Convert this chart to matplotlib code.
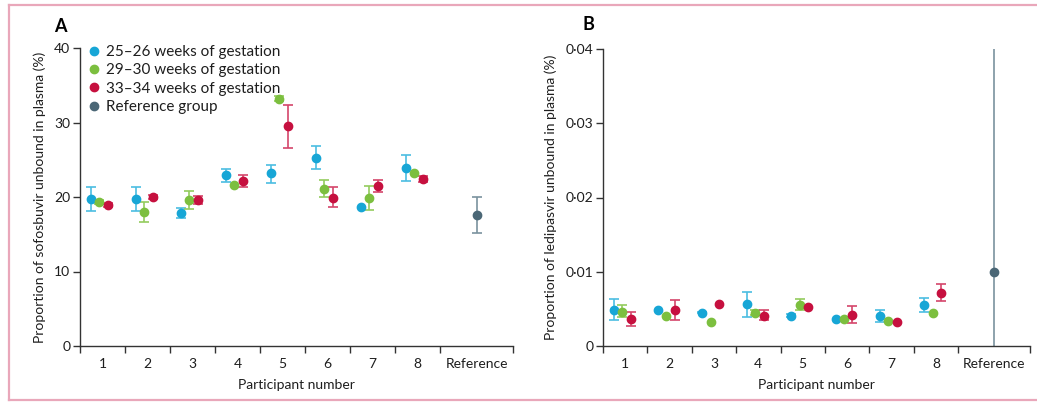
import numpy as np
import matplotlib
matplotlib.use("Agg")
import matplotlib.pyplot as plt
from matplotlib import font_manager
from matplotlib.lines import Line2D

# --- DATA ---------------------------------------------------------------------
participants = ["1", "2", "3", "4", "5", "6", "7", "8"]
ref_label = "Reference"
group_labels = ["25–26 weeks of gestation", "29–30 weeks of gestation",
                "33–34 weeks of gestation", "Reference group"]

# sofosbuvir unbound (%) : mean, lower, upper
sof_mean_2526 = [19.7, 19.7, 17.8, 22.9, 23.2, 25.3, 18.6, 23.9]
sof_low_2526  = [18.1, 18.1, 17.2, 22.0, 21.9, 23.7, 18.6, 22.1]
sof_high_2526 = [21.4, 21.4, 18.5, 23.8, 24.3, 26.9, 18.6, 25.7]

sof_mean_2930 = [19.3, 18.0, 19.6, 21.6, 33.2, 21.1, 19.9, 23.2]
sof_low_2930  = [19.0, 16.7, 18.4, 21.6, 32.9, 20.0, 18.3, 23.2]
sof_high_2930 = [19.6, 19.3, 20.8, 21.6, 33.5, 22.3, 21.5, 23.2]

sof_mean_3334 = [18.9, 20.0, 19.6, 22.2, 29.5, 19.9, 21.5, 22.4]
sof_low_3334  = [18.6, 19.7, 19.1, 21.4, 26.6, 18.6, 20.7, 22.0]
sof_high_3334 = [19.2, 20.3, 20.1, 22.9, 32.3, 21.3, 22.3, 22.8]

sof_ref = [17.6, 15.2, 20.0]

# ledipasvir unbound (%) : mean, lower, upper
led_mean_2526 = [0.0049, 0.0048, 0.0045, 0.0056, 0.0041, 0.0037, 0.0040, 0.0055]
led_low_2526  = [0.0035, 0.0048, 0.0044, 0.0039, 0.0039, 0.0037, 0.0032, 0.0046]
led_high_2526 = [0.0063, 0.0048, 0.0046, 0.0073, 0.0043, 0.0037, 0.0049, 0.0065]

led_mean_2930 = [0.0046, 0.0040, 0.0032, 0.0045, 0.0055, 0.0037, 0.0034, 0.0044]
led_low_2930  = [0.0039, 0.0040, 0.0032, 0.0042, 0.0048, 0.0036, 0.0034, 0.0044]
led_high_2930 = [0.0055, 0.0040, 0.0032, 0.0048, 0.0063, 0.0038, 0.0034, 0.0044]

led_mean_3334 = [0.0036, 0.0049, 0.0057, 0.0041, 0.0052, 0.0042, 0.0032, 0.0071]
led_low_3334  = [0.0027, 0.0035, 0.0057, 0.0035, 0.0052, 0.0031, 0.0032, 0.0060]
led_high_3334 = [0.0046, 0.0062, 0.0057, 0.0048, 0.0052, 0.0054, 0.0032, 0.0083]

led_ref = [0.0100, 0.0, 0.0400]

# --- STYLE --------------------------------------------------------------------
names = {f.name for f in font_manager.fontManager.ttflist}
font = "Liberation Sans Narrow" if "Liberation Sans Narrow" in names else "Lato"
plt.rcParams["font.family"] = [font, "DejaVu Sans"]

dot_colors = ["#17a6d6", "#7cbf3f", "#c6103f", "#4b6776"]
bar_colors = ["#4cbde2", "#93cc5e", "#d4456b", "#7a929e"]
axis_color = "#333333"
text_color = "#1e1e1e"
offsets = [-0.26, -0.07, 0.12]
ref_width = 1.62            # reference column is wider than a participant column
n = len(participants)
bounds = list(range(n + 1)) + [n + ref_width]
centers = [i + 0.5 for i in range(n)]
ref_center = n + ref_width / 2


def draw_group(ax, mean, low, high, k):
    mean, low, high = map(np.asarray, (mean, low, high))
    x = np.array(centers) + offsets[k]
    has_err = high > low
    ax.errorbar(x[has_err], mean[has_err],
                yerr=[mean[has_err] - low[has_err], high[has_err] - mean[has_err]],
                fmt="none", ecolor=bar_colors[k], elinewidth=1.2,
                capsize=3.4, capthick=1.2, zorder=2)
    ax.plot(x, mean, "o", color=dot_colors[k], markersize=6, zorder=3)


def style_axes(ax, yticks, yticklabels, ylabel):
    ax.set_xlim(0, bounds[-1])
    ax.set_ylim(yticks[0], yticks[-1])
    for side in ["top", "right"]:
        ax.spines[side].set_visible(False)
    for side in ["left", "bottom"]:
        ax.spines[side].set_color(axis_color)
        ax.spines[side].set_linewidth(1.0)
    ax.set_xticks(bounds)
    ax.set_xticklabels([])
    ax.set_xticks(centers + [ref_center], minor=True)
    ax.set_xticklabels(participants + [ref_label], minor=True, fontsize=10)
    ax.tick_params(axis="x", which="major", length=5, width=1.0, color=axis_color)
    ax.tick_params(axis="x", which="minor", length=0, pad=9, colors=text_color)
    ax.set_yticks(yticks)
    ax.set_yticklabels(yticklabels, fontsize=10)
    ax.tick_params(axis="y", length=5, width=1.0, color=axis_color,
                   labelcolor=text_color, pad=2)
    ax.set_xlabel("Participant number", fontsize=10, labelpad=6, color=text_color)
    ax.set_ylabel(ylabel, fontsize=10, labelpad=6, color=text_color)


# --- FIGURE -------------------------------------------------------------------
W, H = 1037, 403
fig = plt.figure(figsize=(W / 100, H / 100), dpi=100)

ax_a = fig.add_axes([80 / W, 1 - 346 / H, 433 / W, 298 / H])
ax_b = fig.add_axes([603 / W, 1 - 346 / H, 427 / W, 297 / H])

# panel A - sofosbuvir
for k, (m, lo, hi) in enumerate([(sof_mean_2526, sof_low_2526, sof_high_2526),
                                 (sof_mean_2930, sof_low_2930, sof_high_2930),
                                 (sof_mean_3334, sof_low_3334, sof_high_3334)]):
    draw_group(ax_a, m, lo, hi, k)
ax_a.errorbar([ref_center], [sof_ref[0]],
              yerr=[[sof_ref[0] - sof_ref[1]], [sof_ref[2] - sof_ref[0]]],
              fmt="none", ecolor=bar_colors[3], elinewidth=1.2,
              capsize=3.4, capthick=1.2, zorder=2)
ax_a.plot([ref_center], [sof_ref[0]], "o", color=dot_colors[3], markersize=6, zorder=3)
style_axes(ax_a, [0, 10, 20, 30, 40], ["0", "10", "20", "30", "40"],
           "Proportion of sofosbuvir unbound in plasma (%)")

# panel B - ledipasvir
for k, (m, lo, hi) in enumerate([(led_mean_2526, led_low_2526, led_high_2526),
                                 (led_mean_2930, led_low_2930, led_high_2930),
                                 (led_mean_3334, led_low_3334, led_high_3334)]):
    draw_group(ax_b, m, lo, hi, k)
ax_b.errorbar([ref_center], [led_ref[0]],
              yerr=[[led_ref[0] - led_ref[1]], [led_ref[2] - led_ref[0]]],
              fmt="none", ecolor=bar_colors[3], elinewidth=1.2, capsize=0, zorder=2)
ax_b.plot([ref_center], [led_ref[0]], "o", color=dot_colors[3], markersize=6, zorder=3)
style_axes(ax_b, [0, 0.01, 0.02, 0.03, 0.04], ["0", "0·01", "0·02", "0·03", "0·04"],
           "Proportion of ledipasvir unbound in plasma (%)")

# legend
handles = [Line2D([], [], marker="o", linestyle="none", color=c, markersize=6)
           for c in dot_colors]
ax_a.legend(handles, group_labels, loc="upper left", bbox_to_anchor=(0.022, 1.01),
            frameon=False, fontsize=11, handlelength=0.6, handletextpad=0.5,
            labelspacing=0.28, borderpad=0, borderaxespad=0, labelcolor=text_color)

# panel letters
fig.text(60 / W, 1 - 27 / H, "A", fontsize=13, fontweight="bold", ha="center", va="center")
fig.text(588 / W, 1 - 25 / H, "B", fontsize=13, fontweight="bold", ha="center", va="center")

# pink frame (open on the right, runs off the figure)
frame = dict(color="#e9a7ba", linewidth=1.6, transform=fig.transFigure)
fig.add_artist(Line2D([9 / W, 1.01], [1 - 5 / H, 1 - 5 / H], **frame))
fig.add_artist(Line2D([9 / W, 9 / W], [1 - 5 / H, 1 - 400 / H], **frame))
fig.add_artist(Line2D([9 / W, 1.01], [1 - 400 / H, 1 - 400 / H], **frame))

fig.savefig("out.png", dpi=100)
